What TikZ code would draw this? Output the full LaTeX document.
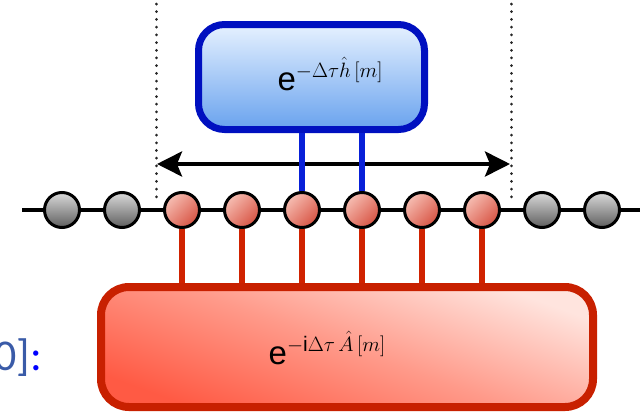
\documentclass[tikz,border=0pt]{standalone}
\usepackage{fontspec}
\setmainfont{Liberation Sans}
\newfontfamily\slidefont{Carlito}
\usetikzlibrary{arrows.meta,shadows}
\definecolor{bluedge}{HTML}{0010C0}
\definecolor{bluetop}{HTML}{E6F1FF}
\definecolor{bluebot}{HTML}{68A2EE}
\definecolor{rededge}{HTML}{C82000}
\definecolor{redlight}{HTML}{FFE4DE}
\definecolor{redmid}{HTML}{FF9A8A}
\definecolor{reddark}{HTML}{FF5A44}
\definecolor{sitelight}{HTML}{F6BDB2}
\definecolor{sitedark}{HTML}{D85444}
\definecolor{graylight}{HTML}{DADADA}
\definecolor{graydark}{HTML}{5E5E5E}
\definecolor{legblue}{HTML}{0820D8}
\definecolor{legred}{HTML}{D02200}
\definecolor{slideblue}{HTML}{3A5BA8}
\tikzset{
  site/.style={circle, draw=black, line width=3pt, minimum size=35pt, inner sep=0pt,
    top color=sitelight, bottom color=sitedark, shading angle=45},
  graysite/.style={site, top color=graylight, bottom color=graydark},
  hbox/.style={rectangle, rounded corners=26pt, draw=bluedge, line width=7pt,
    top color=bluetop, bottom color=bluebot,
    drop shadow={shadow xshift=2pt, shadow yshift=-3pt, opacity=0.15}},
  abox/.style={rectangle, rounded corners=28pt, draw=rededge, line width=8pt,
    top color=redlight, bottom color=reddark, middle color=redmid, shading angle=-20,
    drop shadow={shadow xshift=2pt, shadow yshift=-3pt, opacity=0.15}},
  bleg/.style={draw=legblue, line width=5.5pt},
  rleg/.style={draw=legred, line width=5.5pt},
  chain/.style={draw=black, line width=3.5pt},
  guide/.style={draw=black!85, line width=3pt, dash pattern=on 0.01pt off 7.7pt, line cap=round},
  spanarrow/.style={draw=black, line width=4pt, {Stealth[length=25pt,width=25pt,inset=5pt]}-{Stealth[length=25pt,width=25pt,inset=5pt]}},
  formula/.style={font=\fontsize{33}{33}\selectfont, inner sep=0pt}
}
\newcommand{\supsz}{\fontsize{21}{21}\selectfont}
\begin{document}
\begin{tikzpicture}[x=1pt,y=-1pt]
\useasboundingbox (0,0) rectangle (644,415);
% dotted guides
\coordinate (gl1) at (156,4);
\coordinate (gl2) at (156,203);
\coordinate (gr1) at (511,4);
\coordinate (gr2) at (511,203);
\draw[guide] (gl1) -- (gl2);
\draw[guide] (gr1) -- (gr2);
% chain backbone
\coordinate (cl) at (22,210);
\coordinate (cr) at (640,210);
\draw[chain] (cl) -- (cr);
% boxes
\node[hbox, minimum width=226pt, minimum height=105pt] (H) at (311.5,77) {};
\node[abox, minimum width=492pt, minimum height=120pt] (A) at (347,347) {};
% arrow
\coordinate (al) at (157,164);
\coordinate (ar) at (510,164);
\draw[spanarrow] (al) -- (ar);
% sites
\foreach \i in {1,2,9,10} {
  \node[graysite] (s\i) at ({62+60*(\i-1)},210) {};
}
\foreach \i in {3,...,8} {
  \node[site] (s\i) at ({62+60*(\i-1)},210) {};
}
% legs
\foreach \i in {5,6} {
  \draw[bleg] (s\i.north) -- (s\i.north |- H.south);
}
\foreach \i in {3,...,8} {
  \draw[rleg] (s\i.south) -- (s\i.south |- A.north);
}
% formulas
\node[formula, anchor=base] (hl) at (330,90) {e\raisebox{13pt}{\supsz$-\Delta\tau\hat{h}\,[m]$}};
\node[formula, anchor=base] (al2) at (327,364) {e\raisebox{13pt}{\supsz$-\mathrm{i}\Delta\tau\,\hat{A}\,[m]$}};
% slide text
\node[anchor=base east, inner sep=0pt, font=\slidefont\fontsize{44}{44}\selectfont] (sl) at (42,370) {\textcolor{slideblue}{0]}\textcolor{blue}{:}};
\end{tikzpicture}
\end{document}
